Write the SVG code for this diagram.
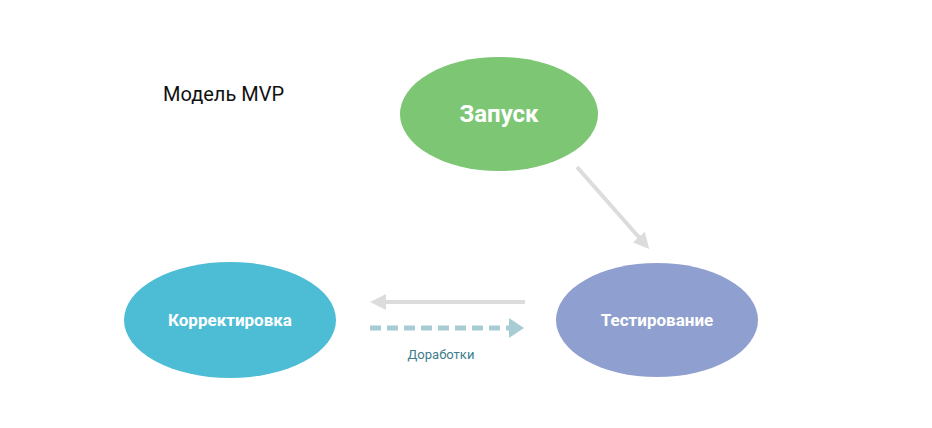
<svg xmlns="http://www.w3.org/2000/svg" width="932" height="428" viewBox="0 0 932 428">
<style>
.n{font-family:Roboto,"Liberation Sans",sans-serif;font-weight:bold;fill:#fff;text-anchor:middle}
</style>
<defs>
<marker id="g" markerWidth="4" markerHeight="4" refX="2" refY="2" orient="auto"><path d="M0,0L4,2L0,4z" fill="#dcdcdc"/></marker>
<marker id="b" markerWidth="3" markerHeight="4" refX="1" refY="2" orient="auto"><path d="M0,0L3,2L0,4z" fill="#a8ccd4"/></marker>
</defs>
<rect width="932" height="428" fill="#fff"/>
<text x="163" y="101" font-family="Roboto,'Liberation Sans',sans-serif" font-size="20" fill="#111">Модель MVP</text>
<g id="connectors">
<line x1="577" y1="167" x2="644" y2="243" stroke="#dcdcdc" stroke-width="4" marker-end="url(#g)"/>
<line x1="525" y1="302" x2="378" y2="302" stroke="#dcdcdc" stroke-width="4" marker-end="url(#g)"/>
<line x1="370" y1="328" x2="514" y2="328" stroke="#a8ccd4" stroke-width="5" stroke-dasharray="11,6" marker-end="url(#b)"/>
<text x="441" y="359" font-family="Roboto,'Liberation Sans',sans-serif" font-size="13" fill="#3d7d8c" text-anchor="middle">Доработки</text>
</g>
<g id="zapusk"><ellipse cx="499" cy="114" rx="99" ry="57" fill="#7cc674"/><text class="n" x="499" y="122" font-size="24">Запуск</text></g>
<g id="test"><ellipse cx="657" cy="320" rx="101" ry="57" fill="#8f9fcf"/><text class="n" x="657" y="326" font-size="17">Тестирование</text></g>
<g id="korr"><ellipse cx="230" cy="320" rx="106" ry="58" fill="#4dbdd6"/><text class="n" x="230" y="326" font-size="17">Корректировка</text></g>
</svg>
